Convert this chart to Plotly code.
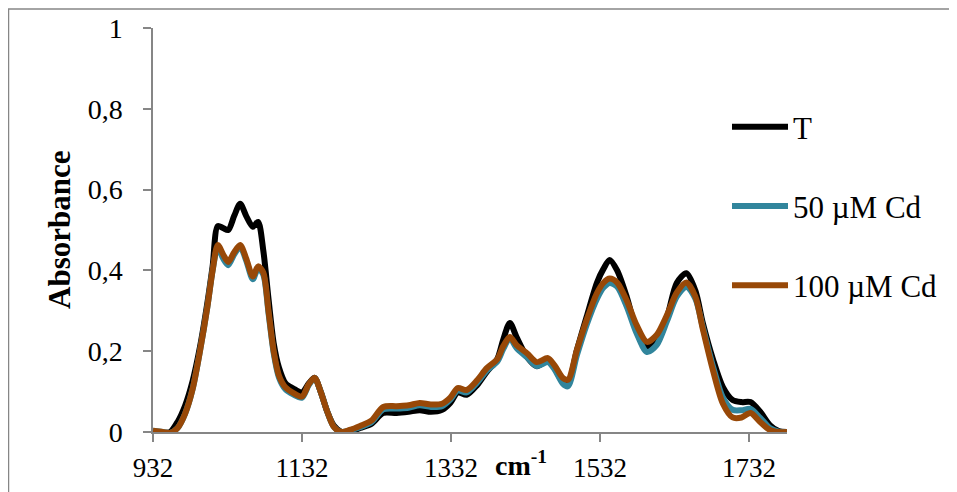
import plotly.graph_objects as go

wavenumber = [932, 945, 955, 965, 975, 985, 995, 1005, 1012, 1019, 1026, 1033, 1041, 1049, 1057, 1066,
              1073, 1080, 1087, 1094, 1101, 1110, 1120, 1132, 1141, 1149, 1157, 1166, 1175, 1185, 1196,
              1210, 1225, 1241, 1259, 1275, 1290, 1305, 1320, 1331, 1341, 1353, 1367, 1380, 1394, 1402,
              1411, 1420, 1434, 1447, 1462, 1471, 1482, 1489, 1501, 1514, 1528, 1537, 1545, 1555, 1568,
              1581, 1595, 1608, 1622, 1635, 1648, 1660, 1670, 1684, 1697, 1710, 1722, 1734, 1747, 1760,
              1772, 1783]

abs_T = [0.003, -0.002, 0.0, 0.025, 0.065, 0.125, 0.21, 0.32, 0.41, 0.51, 0.505, 0.50, 0.535, 0.565,
         0.535, 0.508, 0.52, 0.45, 0.33, 0.22, 0.16, 0.12, 0.108, 0.098, 0.12, 0.134, 0.10, 0.05, 0.015,
         0.0, 0.0, 0.01, 0.02, 0.047, 0.047, 0.05, 0.054, 0.05, 0.055, 0.072, 0.098, 0.092, 0.116, 0.149,
         0.18, 0.228, 0.27, 0.235, 0.186, 0.163, 0.178, 0.16, 0.124, 0.121, 0.203, 0.285, 0.37, 0.405,
         0.426, 0.40, 0.334, 0.252, 0.21, 0.228, 0.285, 0.369, 0.393, 0.35, 0.27, 0.178, 0.111, 0.079,
         0.074, 0.074, 0.05, 0.017, 0.002, 0.0]

abs_50 = [0.003, 0.0, -0.002, 0.01, 0.045, 0.105, 0.2, 0.31, 0.40, 0.458, 0.43, 0.413, 0.44, 0.458,
          0.425, 0.378, 0.405, 0.39, 0.295, 0.195, 0.135, 0.105, 0.093, 0.085, 0.116, 0.133, 0.10, 0.05,
          0.012, 0.0, 0.004, 0.012, 0.024, 0.056, 0.058, 0.06, 0.066, 0.062, 0.064, 0.08, 0.103, 0.098,
          0.122, 0.152, 0.174, 0.205, 0.232, 0.208, 0.185, 0.163, 0.173, 0.155, 0.12, 0.113, 0.19, 0.265,
          0.33, 0.358, 0.369, 0.36, 0.31, 0.245, 0.198, 0.215, 0.275, 0.335, 0.36, 0.33, 0.26, 0.16,
          0.085, 0.055, 0.054, 0.057, 0.035, 0.01, 0.001, 0.0]

abs_100 = [0.003, 0.0, -0.002, 0.01, 0.045, 0.105, 0.2, 0.31, 0.40, 0.463, 0.44, 0.421, 0.445, 0.463,
           0.43, 0.385, 0.41, 0.395, 0.30, 0.20, 0.14, 0.11, 0.097, 0.088, 0.118, 0.134, 0.10, 0.05,
           0.012, 0.0, 0.005, 0.015, 0.028, 0.062, 0.064, 0.066, 0.072, 0.068, 0.07, 0.085, 0.109, 0.104,
           0.128, 0.158, 0.18, 0.212, 0.235, 0.215, 0.195, 0.173, 0.183, 0.165, 0.134, 0.129, 0.203,
           0.277, 0.344, 0.37, 0.38, 0.37, 0.325, 0.265, 0.223, 0.24, 0.29, 0.345, 0.37, 0.335, 0.255,
           0.15, 0.07, 0.036, 0.036, 0.047, 0.025, 0.005, 0.0, 0.0]

series_names = ["T", "50 µM Cd", "100 µM Cd"]
series_colors = ["#000000", "#31859C", "#984807"]

x_tickvals = [932, 1132, 1332, 1532, 1732]
y_tickvals = [0, 0.2, 0.4, 0.6, 0.8, 1]
y_ticktext = ["0", "0,2", "0,4", "0,6", "0,8", "1"]

FONT = "Liberation Serif"
AXIS_GRAY = "#868686"

fig = go.Figure()
for i, (name, vals, col) in enumerate(zip(series_names, [abs_T, abs_50, abs_100], series_colors)):
    fig.add_trace(go.Scatter(
        x=wavenumber, y=vals, mode="lines", name=name, legendgroup=str(i),
        line=dict(color=col, width=6, shape="spline", smoothing=0.8),
    ))

# page has an 8px body margin; figure coordinates = page coordinates - 8
OFF = 8
W, H = 957 - OFF, 492 - OFF
L, R, T, B = 153 - OFF, 787 - OFF, 28 - OFF, 432 - OFF
pw, ph = R - L, B - T

def px(xpage):
    return (xpage - OFF - L) / pw

def py(ypage):
    return (B - (ypage - OFF)) / ph

fig.update_layout(
    width=W, height=H,
    margin=dict(l=L, r=W - R, t=T, b=H - B, autoexpand=False),
    paper_bgcolor="white", plot_bgcolor="white",
    font=dict(family=FONT, color="black", size=28),
    showlegend=True,
    legend=dict(
        x=px(727), y=py(100), xanchor="left", yanchor="top",
        font=dict(family=FONT, size=31, color="black"),
        tracegroupgap=36, bgcolor="rgba(0,0,0,0)", itemwidth=56,
    ),
    xaxis=dict(
        range=[932, 1783], tickvals=x_tickvals, ticktext=[str(v) for v in x_tickvals],
        showgrid=False, zeroline=False, showline=True, linecolor=AXIS_GRAY, linewidth=1.5,
        ticks="outside", ticklen=8, tickcolor=AXIS_GRAY, tickwidth=1.5, automargin=False,
        tickfont=dict(family=FONT, size=27, color="black"), ticklabelstandoff=3,
    ),
    yaxis=dict(
        range=[0, 1], tickvals=y_tickvals, ticktext=y_ticktext, automargin=False,
        showgrid=False, zeroline=False, showline=True, linecolor=AXIS_GRAY, linewidth=1.5,
        ticks="outside", ticklen=8, tickcolor=AXIS_GRAY, tickwidth=1.5,
        tickfont=dict(family=FONT, size=28, color="black"), ticklabelstandoff=15,
    ),
    annotations=[
        dict(text="<b>Absorbance</b>", xref="paper", yref="paper", x=px(59), y=py(230),
             textangle=-90, showarrow=False, font=dict(family=FONT, size=31, color="black"),
             xanchor="center", yanchor="middle"),
        dict(text="<b>cm<sup>-1</sup></b>", xref="paper", yref="paper", x=px(521), y=py(463),
             showarrow=False, font=dict(family=FONT, size=28, color="black"),
             xanchor="center", yanchor="middle"),
    ],
    shapes=[
        dict(type="rect", xref="paper", yref="paper", x0=px(8.5), y0=py(9), x1=px(975), y1=py(510),
             line=dict(color=AXIS_GRAY, width=1.5), fillcolor="rgba(0,0,0,0)", layer="below"),
    ],
)

fig.write_html("out.html")
